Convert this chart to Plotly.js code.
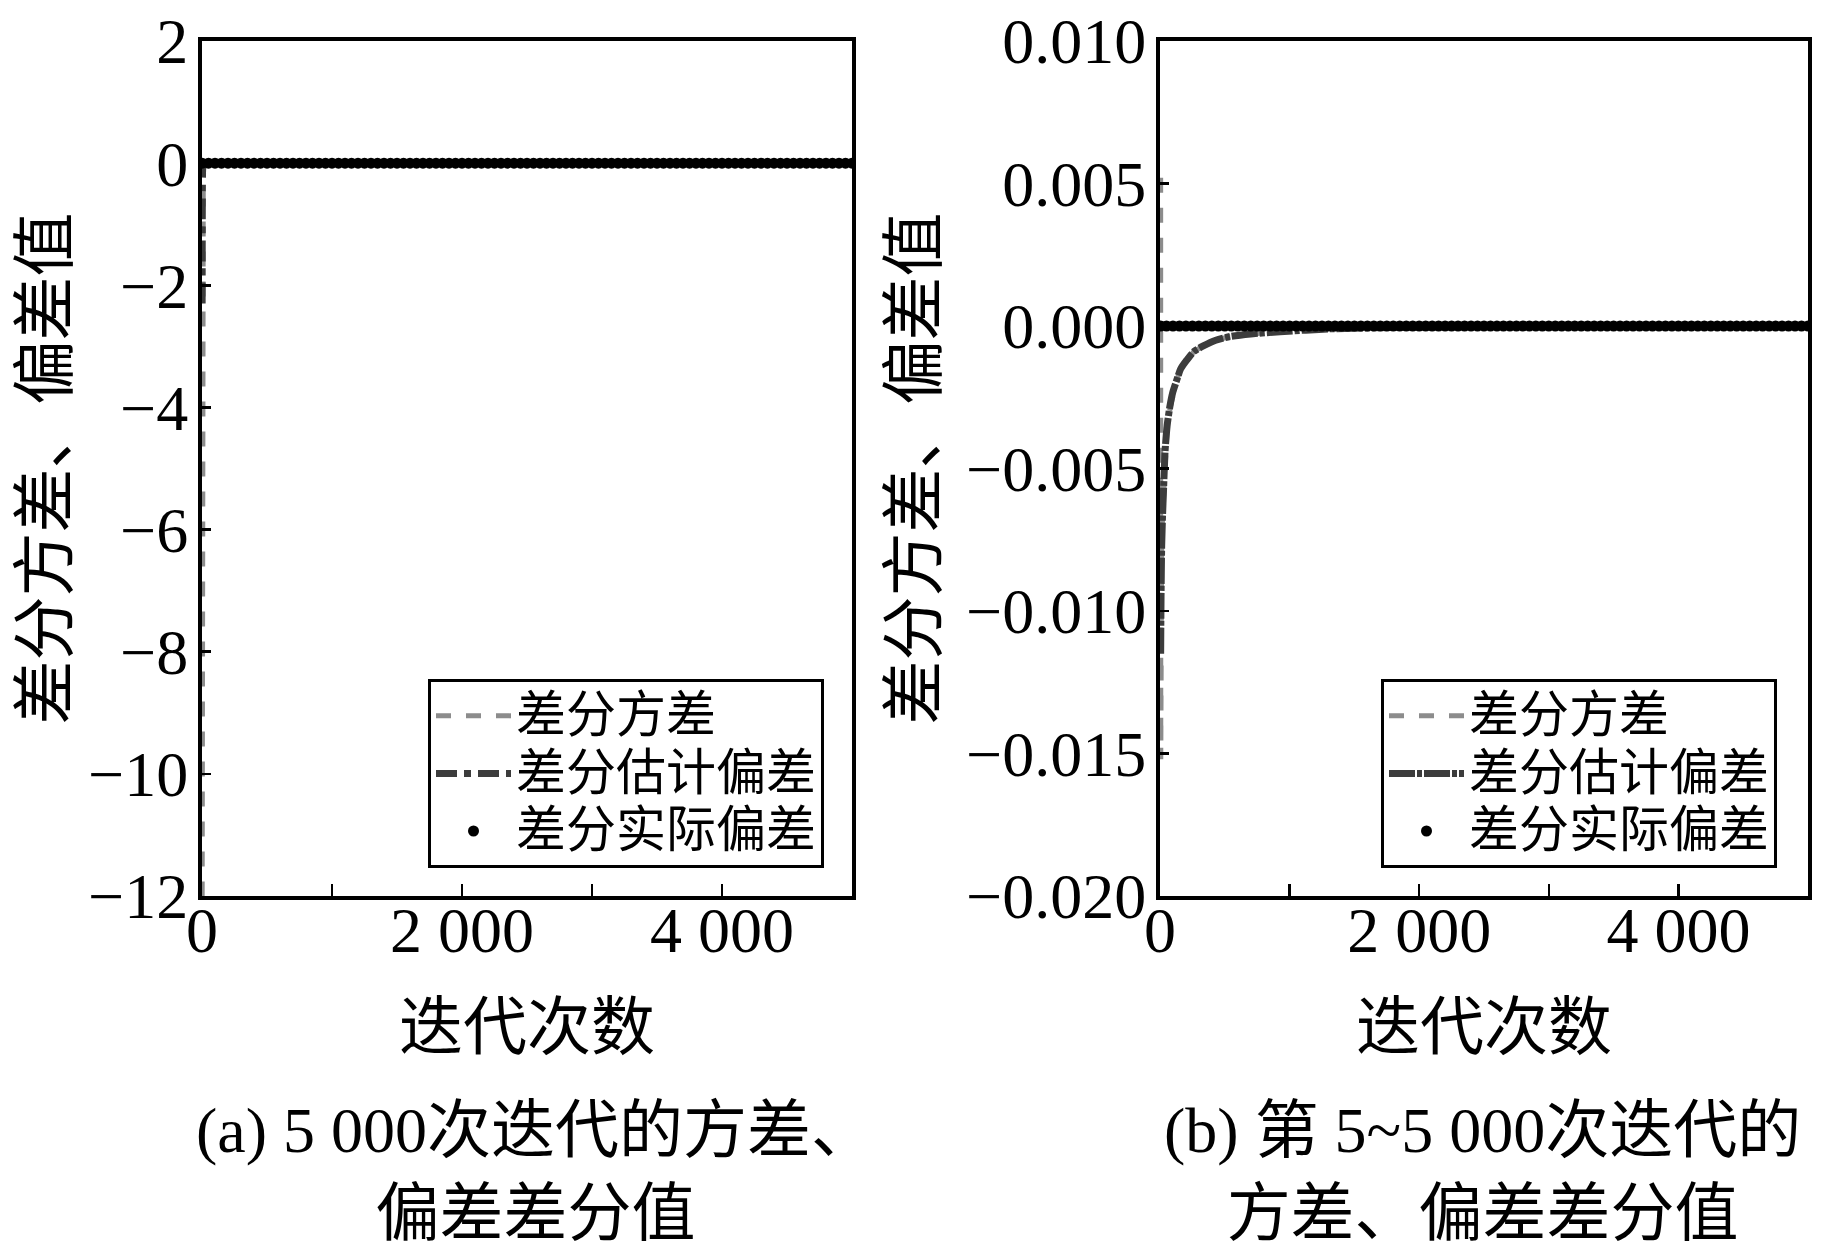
<!DOCTYPE html>
<html>
<head>
<meta charset="utf-8">
<script src="https://cdn.plot.ly/plotly-3.0.1.min.js"></script>
<style>html,body{margin:0;padding:0;background:#fff;}#chart{width:1843px;height:1252px;}</style>
</head>
<body>
<div id="chart"></div>
<script>
// ---- data ----
var seriesNames = ['差分方差', '差分估计偏差', '差分实际偏差'];

// panel (a): iterations 1 .. 5000
var varA_x = [1, 3, 5, 10, 50, 200, 1000, 2000, 3000, 4000, 5000];
var varA_y = [-12.5, -1.2, -0.3, -0.05, -0.005, 0, 0, 0, 0, 0, 0];
var estA_x = [1, 3, 5, 10, 50, 200, 1000, 2000, 3000, 4000, 5000];
var estA_y = [-2.3, -0.4, -0.1, -0.02, -0.002, 0, 0, 0, 0, 0, 0];
var actA_x = [1, 50, 100, 150, 200, 250, 300, 350, 400, 450, 500, 550, 600, 650, 700, 750, 800, 850, 900, 950,
  1000, 1050, 1100, 1150, 1200, 1250, 1300, 1350, 1400, 1450, 1500, 1550, 1600, 1650, 1700, 1750, 1800, 1850, 1900, 1950,
  2000, 2050, 2100, 2150, 2200, 2250, 2300, 2350, 2400, 2450, 2500, 2550, 2600, 2650, 2700, 2750, 2800, 2850, 2900, 2950,
  3000, 3050, 3100, 3150, 3200, 3250, 3300, 3350, 3400, 3450, 3500, 3550, 3600, 3650, 3700, 3750, 3800, 3850, 3900, 3950,
  4000, 4050, 4100, 4150, 4200, 4250, 4300, 4350, 4400, 4450, 4500, 4550, 4600, 4650, 4700, 4750, 4800, 4850, 4900, 4950, 5000];
var actA_y = [0, 0, 0, 0, 0, 0, 0, 0, 0, 0, 0, 0, 0, 0, 0, 0, 0, 0, 0, 0,
  0, 0, 0, 0, 0, 0, 0, 0, 0, 0, 0, 0, 0, 0, 0, 0, 0, 0, 0, 0,
  0, 0, 0, 0, 0, 0, 0, 0, 0, 0, 0, 0, 0, 0, 0, 0, 0, 0, 0, 0,
  0, 0, 0, 0, 0, 0, 0, 0, 0, 0, 0, 0, 0, 0, 0, 0, 0, 0, 0, 0,
  0, 0, 0, 0, 0, 0, 0, 0, 0, 0, 0, 0, 0, 0, 0, 0, 0, 0, 0, 0, 0];

// panel (b): iterations 5 .. 5000
var varB_x = [5, 6, 8, 13, 20, 26, 39, 55, 77, 100, 129, 160, 206, 260, 334, 430, 540, 700, 926, 1312, 1800, 2500, 3500, 5000];
var varB_y = [0.0052, -0.0152, -0.0096, -0.0079, -0.0067, -0.0060, -0.0045, -0.0036, -0.0029, -0.0024, -0.0019, -0.0015, -0.0012, -0.0009, -0.0007, -0.0005, -0.00037, -0.00028, -0.0002, -0.0001, -0.00005, -0.00002, -0.00001, 0];
var estB_x = [5, 8, 13, 20, 26, 39, 55, 77, 100, 129, 160, 206, 260, 334, 430, 540, 700, 926, 1312, 1800, 2500, 3500, 5000];
var estB_y = [-0.0115, -0.0095, -0.0077, -0.0066, -0.0059, -0.0044, -0.0035, -0.0028, -0.0023, -0.0019, -0.0015, -0.0012, -0.0009, -0.0007, -0.0005, -0.00037, -0.00028, -0.0002, -0.0001, -0.00005, -0.00002, -0.00001, 0];
var actB_x = [5, 50, 100, 150, 200, 250, 300, 350, 400, 450, 500, 550, 600, 650, 700, 750, 800, 850, 900, 950,
  1000, 1050, 1100, 1150, 1200, 1250, 1300, 1350, 1400, 1450, 1500, 1550, 1600, 1650, 1700, 1750, 1800, 1850, 1900, 1950,
  2000, 2050, 2100, 2150, 2200, 2250, 2300, 2350, 2400, 2450, 2500, 2550, 2600, 2650, 2700, 2750, 2800, 2850, 2900, 2950,
  3000, 3050, 3100, 3150, 3200, 3250, 3300, 3350, 3400, 3450, 3500, 3550, 3600, 3650, 3700, 3750, 3800, 3850, 3900, 3950,
  4000, 4050, 4100, 4150, 4200, 4250, 4300, 4350, 4400, 4450, 4500, 4550, 4600, 4650, 4700, 4750, 4800, 4850, 4900, 4950, 5000];
var actB_y = actA_y;

var xTickVals = [0, 1000, 2000, 3000, 4000];
var xTickText = ['0', '', '2 000', '', '4 000'];
var yA_ticks = [2, 0, -2, -4, -6, -8, -10, -12];
var yB_ticks = [0.01, 0.005, 0, -0.005, -0.01, -0.015, -0.02];

var xTitle = '迭代次数';
var yTitle = '差分方差、偏差值';
var captionA = '(a) 5 000次迭代的方差、<br>偏差差分值';
var captionB = '(b) 第 5~5 000次迭代的<br>方差、偏差差分值';

// ---- styling ----
var FONT = 'Liberation Serif, "Noto Sans CJK SC", serif';
var W = 1843, H = 1252;

function legName(s) { return '<span style="font-size:50px">' + s + '</span>'; }

function mkTraces(vx, vy, ex, ey, ax, ay, xa, ya, lg, estDash) {
  return [
    {x: vx, y: vy, xaxis: xa, yaxis: ya, legend: lg, name: legName(seriesNames[0]), type: 'scatter', mode: 'lines',
     line: {color: '#8c8c8c', width: 5, dash: 'dash'}},
    {x: ex, y: ey, xaxis: xa, yaxis: ya, legend: lg, name: legName(seriesNames[1]), type: 'scatter', mode: 'lines',
     line: {color: '#3c3c3c', width: 7, dash: estDash, shape: 'spline', smoothing: 0.6}},
    {x: ax, y: ay, xaxis: xa, yaxis: ya, legend: lg, name: legName(seriesNames[2]), type: 'scatter', mode: 'markers',
     marker: {color: '#000', size: 11}}
  ];
}

var data = [].concat(
  mkTraces(varA_x, varA_y, estA_x, estA_y, actA_x, actA_y, 'x', 'y', 'legend', 'dashdot'),
  mkTraces(varB_x, varB_y, estB_x, estB_y, actB_x, actB_y, 'x2', 'y2', 'legend2', '26px,2px,5px,2px')
);

var yTop = 1 - 41 / H, yBot = 1 - 896 / H;
function xAx(d, anchor) {
  return {
    domain: d, anchor: anchor, range: [0, 5000], tickmode: 'array', tickvals: xTickVals, ticktext: xTickText,
    ticks: 'inside', ticklen: 12, tickwidth: 2.5, tickcolor: '#000', ticklabelstandoff: -25,
    showline: true, linecolor: '#000', linewidth: 4, mirror: true, showgrid: false, zeroline: false,
    tickfont: {family: FONT, size: 64, color: '#000'},
    title: {text: xTitle, font: {family: FONT, size: 64, color: '#000'}, standoff: 40},
    automargin: false
  };
}
function yAx(r, ticks, fmt, anchor, so) {
  return {
    domain: [yBot, yTop], anchor: anchor, range: r, tickmode: 'array', tickvals: ticks, tickformat: fmt,
    ticks: 'inside', ticklen: 9, tickwidth: 2.5, tickcolor: '#000', ticklabelstandoff: -3,
    showline: true, linecolor: '#000', linewidth: 4, mirror: true, showgrid: false, zeroline: false,
    tickfont: {family: FONT, size: 64, color: '#000'},
    title: {text: yTitle, font: {family: FONT, size: 64, color: '#000'}, standoff: so},
    automargin: false
  };
}
function leg(x) {
  return {x: x, xanchor: 'left', y: 1 - 679 / H, yanchor: 'top', xref: 'paper', yref: 'paper',
    bgcolor: '#fff', bordercolor: '#000', borderwidth: 3,
    font: {family: FONT, size: 42, color: '#000'}, itemwidth: 75, tracegroupgap: 0};
}

var layout = {
  width: W, height: H, margin: {l: 0, r: 0, t: 0, b: 0},
  paper_bgcolor: '#fff', plot_bgcolor: '#fff', showlegend: true,
  xaxis: xAx([202 / W, 852 / W], 'y'),
  yaxis: yAx([-12, 2], yA_ticks, 'd', 'x', 1),
  xaxis2: xAx([1160 / W, 1808 / W], 'y2'),
  yaxis2: yAx([-0.02, 0.01], yB_ticks, '.3f', 'x2', 10),
  legend: leg(428 / W),
  legend2: leg(1381 / W),
  annotations: [
    {text: captionA, x: 535 / W, y: 1 - 1093 / H, xref: 'paper', yref: 'paper', xanchor: 'center', yanchor: 'top',
     showarrow: false, align: 'center', font: {family: FONT, size: 64, color: '#000'}},
    {text: captionB, x: 1482 / W, y: 1 - 1093 / H, xref: 'paper', yref: 'paper', xanchor: 'center', yanchor: 'top',
     showarrow: false, align: 'center', font: {family: FONT, size: 64, color: '#000'}}
  ]
};

Plotly.newPlot('chart', data, layout, {staticPlot: true, displayModeBar: false});
</script>
</body>
</html>
